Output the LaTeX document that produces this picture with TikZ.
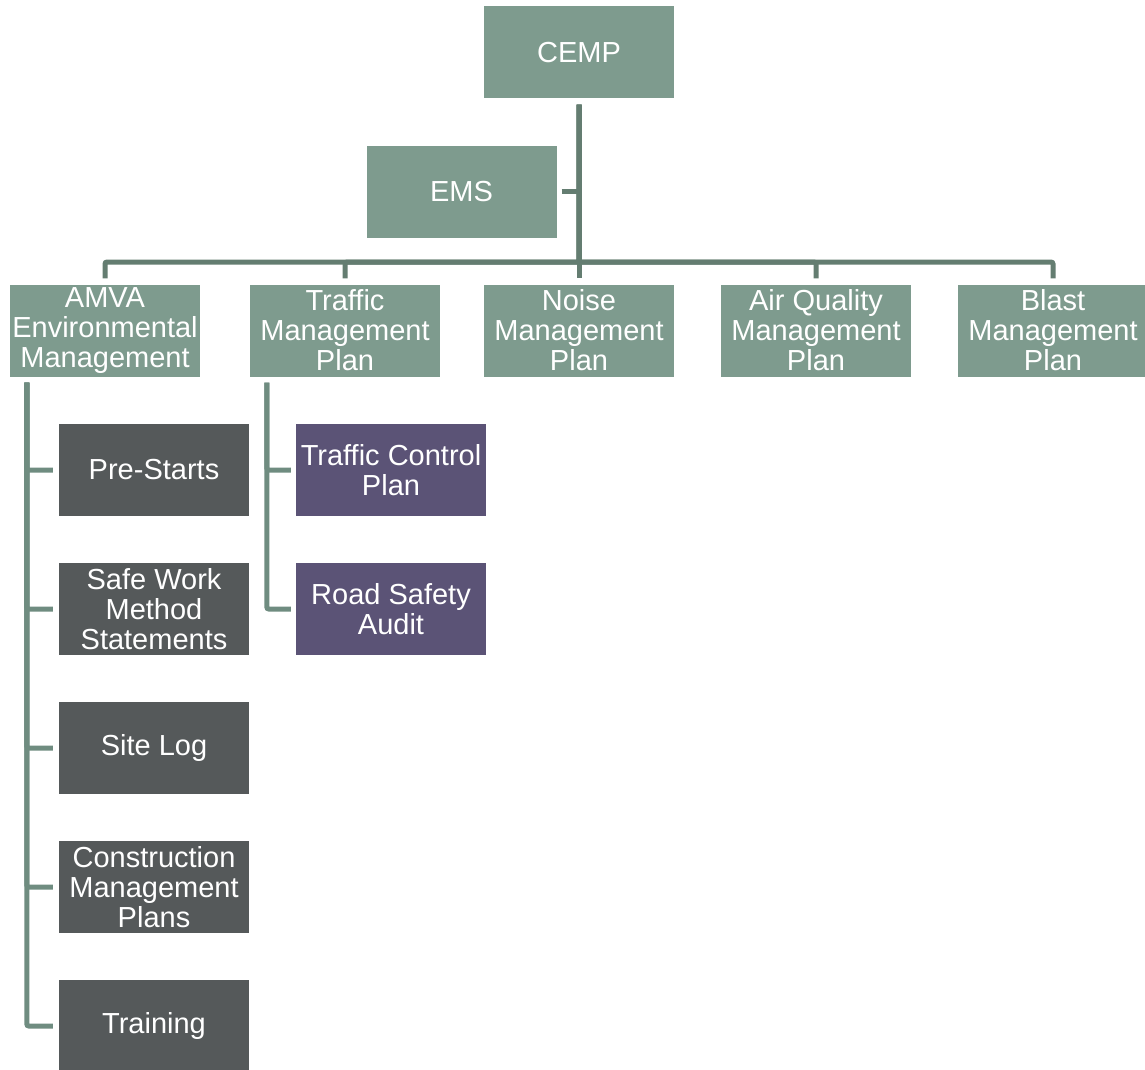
\documentclass[tikz,border=0pt]{standalone}
\usepackage{fontspec}
\setmainfont{Liberation Sans}
\definecolor{gfill}{HTML}{7E9B8E}
\definecolor{dfill}{HTML}{55595A}
\definecolor{pfill}{HTML}{5B5376}
\definecolor{conndark}{HTML}{647D71}
\definecolor{connlight}{HTML}{6F8C80}
\tikzset{
  box/.style={rectangle, minimum width=190pt, minimum height=92pt, inner sep=0pt,
    align=center, text=white, font=\fontsize{29}{30}\selectfont},
  gbox/.style={box, fill=gfill},
  dbox/.style={box, fill=dfill},
  pbox/.style={box, fill=pfill},
  conn/.style={line width=5pt, draw=conndark, rounded corners=2pt},
  subconn/.style={line width=5pt, draw=connlight, rounded corners=2pt},
}
\begin{document}
\begin{tikzpicture}[x=1pt,y=-1pt]
\useasboundingbox[fill=white] (0,0) rectangle (1145,1070);
% level 1
\node[gbox] (cemp) at (579,52.5) {CEMP};
\node[gbox] (ems) at (461.5,191.5) {EMS};
% level 2
\node[gbox] (amva) at (105,330.5) {AMVA\\Environmental\\Management};
\node[gbox] (tmp) at (345,330.5) {Traffic\\Management\\Plan};
\node[gbox] (nmp) at (579,330.5) {Noise\\Management\\Plan};
\node[gbox] (aqmp) at (816,330.5) {Air Quality\\Management\\Plan};
\node[gbox] (bmp) at (1053,330.5) {Blast\\Management\\Plan};
% level 3 (AMVA)
\node[dbox] (pre) at (154,470) {Pre-Starts};
\node[dbox] (swms) at (154,609) {Safe Work\\Method\\Statements};
\node[dbox] (log) at (154,748) {Site Log};
\node[dbox] (cmp) at (154,887) {Construction\\Management\\Plans};
\node[dbox] (train) at (154,1026) {Training};
% level 3 (Traffic)
\node[pbox] (tcp) at (391,470) {Traffic Control\\Plan};
\node[pbox] (rsa) at (391,609) {Road Safety\\Audit};
% connectors from CEMP
\coordinate (bus) at (579,262);
\foreach \c in {amva,tmp,nmp,aqmp,bmp}{
  \draw[conn] ([yshift=-6pt]cemp.south) -- (bus) -| ([yshift=6pt]\c.north);
}
\draw[conn] ([xshift=5pt]ems.east) -- (ems.east -| cemp.south);
% AMVA children
\foreach \c in {pre,swms,log,cmp,train}{
  \draw[subconn] ([xshift=17pt,yshift=-6pt]amva.south west) |- ([xshift=-6pt]\c.west);
}
% Traffic children
\foreach \c in {tcp,rsa}{
  \draw[subconn] ([xshift=17pt,yshift=-6pt]tmp.south west) |- ([xshift=-5pt]\c.west);
}
\end{tikzpicture}
\end{document}
